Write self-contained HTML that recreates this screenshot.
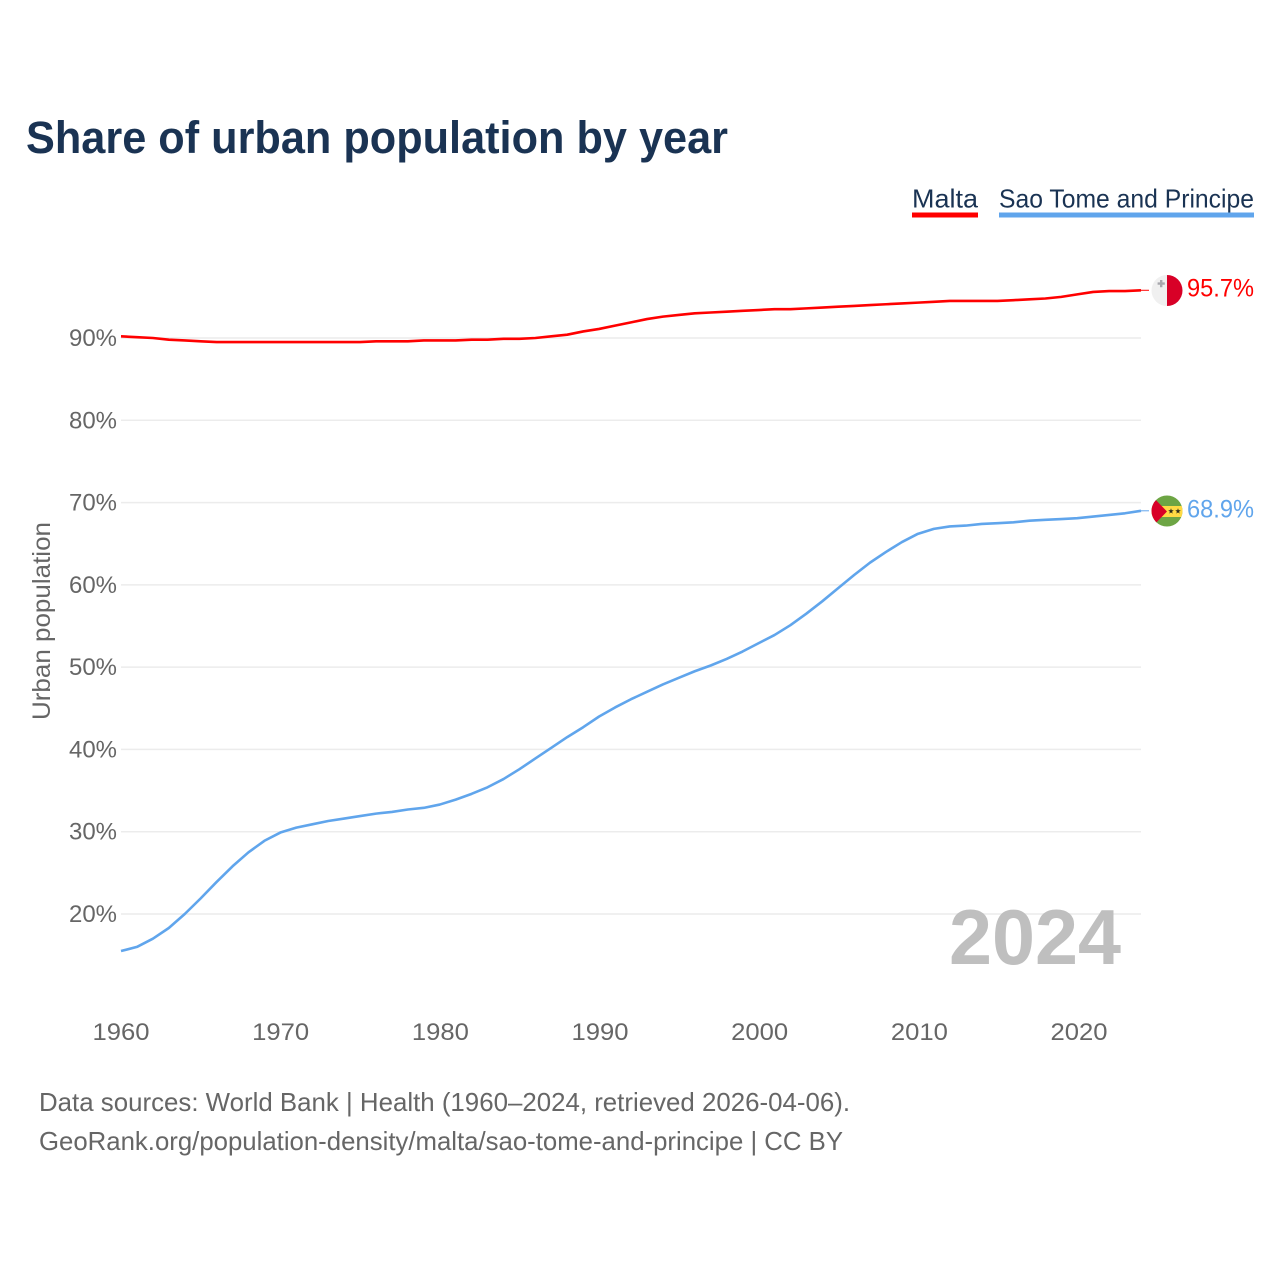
<!DOCTYPE html>
<html lang="en">
<head>
<meta charset="utf-8">
<title>Share of urban population by year</title>
<style>
html,body{margin:0;padding:0;background:#fff;width:1280px;height:1280px;overflow:hidden}
svg{display:block;font-family:"Liberation Sans",sans-serif}
</style>
</head>
<body>
<svg id="chart" xmlns="http://www.w3.org/2000/svg" width="1280" height="1280" viewBox="0 0 1280 1280">
  <rect width="1280" height="1280" fill="#ffffff"/>
  <text x="26" y="153" font-size="45" font-weight="700" fill="#1a3353" textLength="702" lengthAdjust="spacingAndGlyphs">Share of urban population by year</text>

  <g>
    <text x="912" y="207.5" font-size="26" fill="#1a3353" textLength="66" lengthAdjust="spacingAndGlyphs">Malta</text>
    <rect x="912" y="212.5" width="66" height="5" fill="#ff0000"/>
  </g>
  <g>
    <text x="999" y="207.5" font-size="26" fill="#1a3353" textLength="255" lengthAdjust="spacingAndGlyphs">Sao Tome and Principe</text>
    <rect x="999" y="212.5" width="255" height="5" fill="#60a5ec"/>
  </g>

  <g id="grid"></g>
  <g id="yticks"></g>
  <g id="xticks"></g>
  <text transform="translate(50 621) rotate(-90)" text-anchor="middle" font-size="25" fill="#666666" textLength="198" lengthAdjust="spacingAndGlyphs">Urban population</text>

  <text x="949" y="964" font-size="78" font-weight="700" fill="#bfbfbf" textLength="172" lengthAdjust="spacingAndGlyphs">2024</text>

  <g id="series"></g>

  <g>
    <circle cx="1167" cy="290.5" r="15.5" fill="#f0f0f0"/>
    <path d="M1167 275 A15.5 15.5 0 0 1 1167 306 Z" fill="#d80027"/>
    <path d="M1160 280h2.4v2.4h2.4v2.4h-2.4v2.4h-2.4v-2.4h-2.4v-2.4h2.4z" fill="#a7a7ad"/>
  </g>
  <text x="1187" y="296.5" font-size="25" fill="#ff0000" textLength="67" lengthAdjust="spacingAndGlyphs">95.7%</text>

  <g>
    <defs><clipPath id="stpClip"><circle cx="1167" cy="511" r="15.5"/></clipPath></defs>
    <g clip-path="url(#stpClip)">
      <rect x="1151" y="495" width="32" height="32" fill="#6da544"/>
      <rect x="1151" y="506" width="32" height="11" fill="#ffda44"/>
      <path d="M1151 495 L1167 511.5 L1151 528 Z" fill="#d80027"/>
      <path d="M1171 508.3l.7 2h2.1l-1.7 1.3.6 2-1.7-1.2-1.7 1.2.6-2-1.7-1.3h2.1z" fill="#2a2a1a"/>
      <path d="M1178 508.3l.7 2h2.1l-1.7 1.3.6 2-1.7-1.2-1.7 1.2.6-2-1.7-1.3h2.1z" fill="#2a2a1a"/>
    </g>
  </g>
  <text x="1187" y="517.5" font-size="25" fill="#60a5ec" textLength="67" lengthAdjust="spacingAndGlyphs">68.9%</text>

  <text x="39" y="1111" font-size="26" fill="#666666" textLength="811" lengthAdjust="spacingAndGlyphs">Data sources: World Bank | Health (1960–2024, retrieved 2026-04-06).</text>
  <text x="39" y="1150" font-size="26" fill="#666666" textLength="804" lengthAdjust="spacingAndGlyphs">GeoRank.org/population-density/malta/sao-tome-and-principe | CC BY</text>
</svg>
<script>
const startYear = 1960;
const yTickValues = [20, 30, 40, 50, 60, 70, 80, 90];
const xTickYears = [1960, 1970, 1980, 1990, 2000, 2010, 2020];
const maltaValues = [90.2, 90.1, 90.0, 89.8, 89.7, 89.6, 89.5, 89.5, 89.5, 89.5, 89.5, 89.5, 89.5, 89.5, 89.5, 89.5, 89.6, 89.6, 89.6, 89.7, 89.7, 89.7, 89.8, 89.8, 89.9, 89.9, 90.0, 90.2, 90.4, 90.8, 91.1, 91.5, 91.9, 92.3, 92.6, 92.8, 93.0, 93.1, 93.2, 93.3, 93.4, 93.5, 93.5, 93.6, 93.7, 93.8, 93.9, 94.0, 94.1, 94.2, 94.3, 94.4, 94.5, 94.5, 94.5, 94.5, 94.6, 94.7, 94.8, 95.0, 95.3, 95.6, 95.7, 95.7, 95.8];
const saoTomeValues = [15.5, 16.0, 17.0, 18.3, 20.0, 21.9, 23.9, 25.8, 27.5, 28.9, 29.9, 30.5, 30.9, 31.3, 31.6, 31.9, 32.2, 32.4, 32.7, 32.9, 33.3, 33.9, 34.6, 35.4, 36.4, 37.6, 38.9, 40.2, 41.5, 42.7, 44.0, 45.1, 46.1, 47.0, 47.9, 48.7, 49.5, 50.2, 51.0, 51.9, 52.9, 53.9, 55.1, 56.5, 58.0, 59.6, 61.2, 62.7, 64.0, 65.2, 66.2, 66.8, 67.1, 67.2, 67.4, 67.5, 67.6, 67.8, 67.9, 68.0, 68.1, 68.3, 68.5, 68.7, 69.0];

const SVG_NS = 'http://www.w3.org/2000/svg';
function xScale(year) { return 121 + (year - 1960) * (1141 - 121) / (2024 - 1960); }
function yScale(value) { return 338 + (90 - value) * (914 - 338) / 70; }
function make(tag, attrs) {
  const el = document.createElementNS(SVG_NS, tag);
  for (const k in attrs) el.setAttribute(k, attrs[k]);
  return el;
}
const gridG = document.getElementById('grid');
const yG = document.getElementById('yticks');
const xG = document.getElementById('xticks');
const seriesG = document.getElementById('series');

yTickValues.forEach(function (v) {
  const line = make('line', { x1: 121, x2: 1141, y1: yScale(v), y2: yScale(v), stroke: '#ececec', 'stroke-width': 1.5 });
  
  
  gridG.appendChild(line);
  const label = make('text', { x: 117, y: yScale(v) + 8, 'text-anchor': 'end', 'font-size': 24, fill: '#666666', textLength: 48, lengthAdjust: 'spacingAndGlyphs' });
  label.textContent = v + '%';
  
  
  yG.appendChild(label);
});

xTickYears.forEach(function (yr) {
  const label = make('text', { x: xScale(yr) + (yr - 1960) * 0.03, y: 1040, 'text-anchor': 'middle', 'font-size': 24, fill: '#666666', textLength: 57, lengthAdjust: 'spacingAndGlyphs' });
  label.textContent = String(yr);
  
  
  xG.appendChild(label);
});

function drawSeries(values, color, key) {
  const pts = values.map(function (v, i) {
    return xScale(startYear + i).toFixed(2) + ' ' + yScale(v).toFixed(2);
  });
  const path = make('path', { d: 'M' + pts.join(' L'), fill: 'none', stroke: color, 'stroke-width': 2.6, 'stroke-linejoin': 'round', 'stroke-linecap': 'butt' });
  
  
  seriesG.appendChild(path);
  const lastY = yScale(values[values.length - 1]);
  const leader = make('line', { x1: xScale(startYear + values.length - 1), x2: 1149, y1: lastY, y2: lastY, stroke: color, 'stroke-width': 1 });
  
  
  seriesG.appendChild(leader);
}
drawSeries(maltaValues, '#ff0000', 'malta');
drawSeries(saoTomeValues, '#60a5ec', 'sao-tome');
</script>
</body>
</html>
